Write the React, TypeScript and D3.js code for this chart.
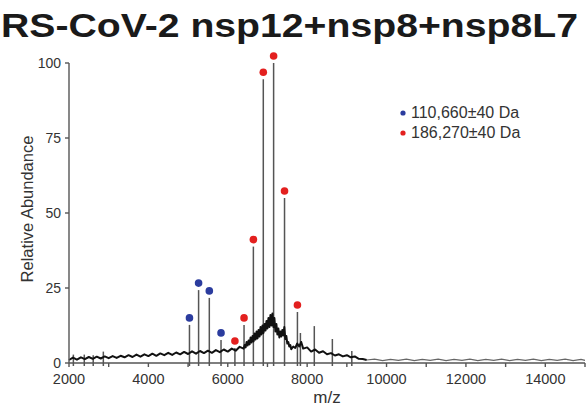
import React from "react";
import * as d3 from "d3";

const W = 588;
const H = 407;

// Spectrum baseline (m/z, relative abundance)
const spectrumMain: [number, number][] = [
  [2000, 1.0], [2100, 1.8], [2200, 1.1], [2300, 1.9], [2400, 1.3], [2500, 2.0], [2600, 1.4], [2700, 2.1],
  [2800, 1.5], [2900, 2.2], [3000, 1.6], [3100, 2.3], [3200, 1.7], [3300, 2.4], [3400, 1.9], [3500, 2.6],
  [3600, 2.0], [3700, 2.8], [3800, 2.1], [3900, 2.9], [4000, 2.3], [4100, 3.1], [4200, 2.4], [4300, 3.2],
  [4400, 2.6], [4500, 3.4], [4600, 2.7], [4700, 3.5], [4800, 2.9], [4900, 3.7], [5000, 3.0], [5100, 3.9],
  [5200, 3.1], [5300, 4.0], [5400, 3.3], [5500, 4.1], [5600, 3.4], [5700, 4.3], [5800, 3.6], [5900, 4.5],
  [6000, 3.8], [6100, 4.8], [6200, 4.1], [6300, 5.4],
  [6400, 4.8], [6425, 6.0], [6450, 5.2], [6475, 7.0], [6500, 5.8], [6525, 7.5], [6550, 6.2], [6575, 8.5],
  [6600, 6.8], [6625, 9.0], [6650, 7.2], [6675, 9.8], [6700, 7.8], [6725, 10.5], [6750, 8.2], [6775, 11.0],
  [6800, 8.8], [6825, 12.0], [6850, 9.5], [6875, 12.5], [6900, 10.0], [6925, 13.0], [6950, 10.8], [6975, 14.0],
  [7000, 11.5], [7025, 15.0], [7050, 12.0], [7075, 16.0], [7100, 12.5], [7125, 16.5], [7150, 12.0], [7175, 15.0],
  [7200, 10.5], [7225, 13.0], [7250, 9.5], [7275, 11.5], [7300, 8.5], [7325, 10.5], [7350, 8.8], [7375, 11.0],
  [7400, 9.2], [7425, 12.0], [7450, 8.0], [7475, 9.0], [7500, 6.5], [7525, 7.0], [7550, 5.5], [7575, 6.0],
  [7600, 4.6], [7650, 5.5], [7700, 5.0], [7750, 6.5],
  [7800, 5.5], [7850, 7.0], [7900, 4.8], [8000, 5.2], [8100, 3.8], [8200, 4.5], [8300, 3.4], [8400, 3.9],
  [8500, 2.9], [8600, 3.3], [8700, 2.5], [8800, 2.9], [8900, 2.2], [9000, 2.6], [9100, 1.9], [9200, 2.2],
  [9300, 1.4], [9400, 1.3], [9500, 1.0],
];

const spectrumTail: [number, number][] = [
  [9500, 1.0], [9700, 1.3], [9900, 0.8], [10100, 1.2], [10300, 0.9], [10500, 1.3], [10700, 0.8], [10900, 1.2],
  [11100, 0.9], [11300, 1.3], [11500, 0.8], [11700, 1.2], [11900, 0.9], [12100, 1.3], [12300, 0.8], [12500, 1.2],
  [12700, 0.9], [12900, 1.3], [13100, 0.8], [13300, 1.2], [13500, 0.9], [13700, 1.3], [13900, 0.8], [14100, 1.2],
  [14300, 0.9], [14500, 1.3], [14700, 0.8], [14900, 1.2], [15000, 0.9],
];

// Labelled charge-state peaks
const peaksBlue: [number, number][] = [
  [5035, 12.7], [5265, 24.3], [5535, 21.7], [5830, 7.7],
];
const peaksRed: [number, number][] = [
  [6180, 5.0], [6410, 12.7], [6645, 38.8], [6895, 94.6], [7155, 100], [7430, 55], [7755, 17],
];
// Unlabelled peaks
const peaksOther: [number, number][] = [
  [2110, 2.8], [2385, 2.8], [2610, 2.6], [2865, 3.8], [7830, 10], [8180, 12.3], [8635, 8], [9125, 4],
];

const yTicks = [0, 25, 50, 75, 100];
const xTicksMajor = [2000, 4000, 6000, 8000, 10000, 12000, 14000];
const xTicksMinor = [2000, 3000, 4000, 5000, 6000, 7000, 8000, 9000, 10000, 11000, 12000, 13000, 14000, 15000];

const legendItems = [
  { label: "110,660±40 Da", color: "#2b3c9e" },
  { label: "186,270±40 Da", color: "#e3201f" },
];

const titleText = "RS-CoV-2 nsp12+nsp8+nsp8L7";

export default function App() {
  const x = d3.scaleLinear().domain([2000, 15000]).range([69, 585]);
  const y = d3.scaleLinear().domain([0, 100]).range([363, 63]);
  const line = d3.line<[number, number]>().x((d) => x(d[0])).y((d) => y(d[1]));
  const font = "'Liberation Sans', Arial, Helvetica, sans-serif";

  const allPeaks = [...peaksOther, ...peaksBlue, ...peaksRed];

  return (
    <svg
      width={W}
      height={H}
      style={{ position: "absolute", left: 0, top: 0, background: "#fff" }}
      fontFamily={font}
    >
      <rect x={0} y={0} width={W} height={H} fill="#fff" />
      {/* Title */}
      <text
        x={1}
        y={37}
        textLength={577}
        lengthAdjust="spacingAndGlyphs"
        fontSize={33}
        fontWeight="bold"
        fill="#1a1a1a"
      >
        {titleText}
      </text>

      {/* spectrum */}
      <path d={line(spectrumTail) || ""} fill="none" stroke="#666" strokeWidth={1.2} />
      {allPeaks.map((p, i) => (
        <line
          key={"p" + i}
          x1={x(p[0])}
          x2={x(p[0])}
          y1={y(-1)}
          y2={y(p[1])}
          stroke="#555"
          strokeWidth={1.5}
        />
      ))}
      <path d={line(spectrumMain) || ""} fill="none" stroke="#111" strokeWidth={2} strokeLinejoin="round" />

      {/* dots */}
      {peaksBlue.map((p, i) => (
        <circle key={"b" + i} cx={x(p[0])} cy={y(p[1]) - 7} r={3.8} fill={legendItems[0].color} />
      ))}
      {peaksRed.map((p, i) => (
        <circle key={"r" + i} cx={x(p[0])} cy={y(p[1]) - 7} r={3.8} fill={legendItems[1].color} />
      ))}

      {/* Y axis */}
      <line x1={69} x2={69} y1={y(100)} y2={y(0)} stroke="#555" strokeWidth={1.4} />
      {yTicks.map((t) => (
        <g key={"yt" + t}>
          <line x1={65} x2={69} y1={y(t)} y2={y(t)} stroke="#555" strokeWidth={1.4} />
          <text x={61} y={y(t)} dy="0.35em" textAnchor="end" fontSize={14} fill="#333">
            {t}
          </text>
        </g>
      ))}
      <text
        transform={`translate(33,209) rotate(-90)`}
        textAnchor="middle"
        fontSize={16.5}
        fill="#333"
      >
        Relative Abundance
      </text>

      {/* X axis */}
      <line x1={x(2000)} x2={x(15000)} y1={363} y2={363} stroke="#555" strokeWidth={1.4} />
      {xTicksMinor.map((t) => (
        <line key={"xm" + t} x1={x(t)} x2={x(t)} y1={363} y2={367} stroke="#555" strokeWidth={1.4} />
      ))}
      {xTicksMajor.map((t) => (
        <text key={"xl" + t} x={x(t)} y={384} textAnchor="middle" fontSize={14.5} fill="#333">
          {t}
        </text>
      ))}
      <text x={327} y={403} textAnchor="middle" fontSize={17} fill="#333">
        m/z
      </text>

      {/* Legend */}
      {legendItems.map((it, i) => (
        <g key={"lg" + i}>
          <circle cx={403} cy={113 + i * 20} r={2.6} fill={it.color} />
          <text x={411} y={118 + i * 20} fontSize={16} fill="#333">
            {it.label}
          </text>
        </g>
      ))}
    </svg>
  );
}
